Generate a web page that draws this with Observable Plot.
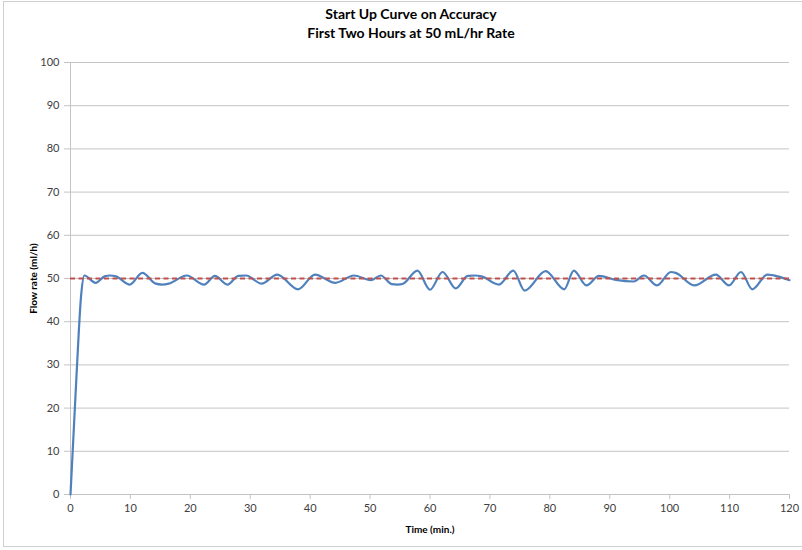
<!DOCTYPE html>
<html>
<head>
<meta charset="utf-8">
<script src="https://cdn.jsdelivr.net/npm/d3@7"></script>
<script src="https://cdn.jsdelivr.net/npm/@observablehq/plot@0.6"></script>
<style>
  html, body { margin: 0; padding: 0; background: #fff; }
  #wrap { position: relative; width: 802px; height: 550px; overflow: hidden; }
  #border { position: absolute; left: 3px; top: 1px; width: 800px; height: 546px; border: 1px solid #d0d0d0; box-sizing: border-box; pointer-events: none; }
</style>
</head>
<body>
<div id="wrap"><div id="border"></div></div>
<script>
// Data
const titleLines = ["Start Up Curve on Accuracy", "First Two Hours at 50 mL/hr Rate"];
const xLabel = "Time (min.)";
const yLabel = "Flow rate (ml/h)";
const xTicks = [0, 10, 20, 30, 40, 50, 60, 70, 80, 90, 100, 110, 120];
const yTicks = [0, 10, 20, 30, 40, 50, 60, 70, 80, 90, 100];
const targetRate = 50;

const minutes = [0, 1, 1.8, 2.3, 4.2, 5.7, 6.6, 7.6, 9.9, 12.0, 14.2, 15.3, 16.4, 19.4, 22.3, 24.1, 26.2, 28.0, 29.3, 31.9, 34.5, 38.0, 40.8, 44.2, 47.3, 50.1, 51.8, 53.6, 54.6, 55.5, 57.9, 60.0, 62.1, 64.3, 66.3, 67.5, 68.6, 71.5, 73.9, 75.8, 79.3, 82.4, 84.0, 86.1, 88.2, 91.0, 94.0, 95.7, 97.9, 100.2, 101.0, 104.1, 107.7, 109.9, 111.9, 113.8, 116.3, 118.0, 120];
const flowRate = [0, 27.5, 46.5, 50.7, 49.0, 50.5, 50.7, 50.5, 48.6, 51.3, 48.8, 48.6, 48.8, 50.7, 48.6, 50.6, 48.6, 50.6, 50.7, 48.8, 50.9, 47.5, 50.9, 49.0, 50.7, 49.6, 50.7, 48.7, 48.6, 48.8, 51.8, 47.4, 51.5, 47.7, 50.6, 50.7, 50.5, 48.6, 51.8, 47.2, 51.7, 47.5, 51.8, 48.4, 50.6, 49.7, 49.3, 50.7, 48.4, 51.5, 51.3, 48.4, 50.9, 48.4, 51.5, 47.5, 50.9, 50.5, 49.6];

const series = minutes.map((t, i) => ({t, v: flowRate[i]}));

const gridColor = "#c4c4c4";
const textColor = "#404040";

const chart = Plot.plot({
  width: 802,
  height: 550,
  marginLeft: 70,
  marginRight: 13,
  marginTop: 62,
  marginBottom: 56,
  style: {fontFamily: "Lato, 'Open Sans', sans-serif", fontSize: "11px", color: textColor, background: "transparent"},
  x: {domain: [0, 120]},
  y: {domain: [0, 100]},
  marks: [
    Plot.gridY(yTicks, {stroke: gridColor, strokeOpacity: 1, strokeWidth: 1}),
    Plot.ruleX([0], {stroke: gridColor, strokeWidth: 1}),
    Plot.ruleY([0], {stroke: gridColor, strokeWidth: 1}),
    Plot.axisY({ticks: yTicks, tickSize: 6, tickPadding: 5, stroke: gridColor, strokeOpacity: 1, label: null, fill: textColor}),
    Plot.axisX({ticks: xTicks, tickSize: 5, tickPadding: 5, stroke: gridColor, strokeOpacity: 1, label: null, fill: textColor}),
    Plot.line(series, {x: "t", y: "v", curve: "monotone-x", stroke: "#4f81bd", strokeWidth: 2.2}),
    Plot.ruleY([targetRate], {x1: 0, x2: 120, stroke: "#c0504d", strokeWidth: 2, strokeDasharray: "5,3.5"}),
    Plot.text([titleLines[0]], {frameAnchor: "top", lineAnchor: "middle", dx: -19, dy: -48, fontSize: 14, fontWeight: "bold", fill: "#000"}),
    Plot.text([titleLines[1]], {frameAnchor: "top", lineAnchor: "middle", dx: -19, dy: -29, fontSize: 14, fontWeight: "bold", fill: "#000"}),
    Plot.text([xLabel], {frameAnchor: "bottom", lineAnchor: "middle", dy: 35, fontSize: 10, fontWeight: "bold", fill: "#000"}),
    Plot.text([yLabel], {frameAnchor: "left", textAnchor: "middle", lineAnchor: "middle", dx: -37, rotate: -90, fontSize: 10, fontWeight: "bold", fill: "#000"})
  ]
});

document.getElementById("wrap").appendChild(chart);
</script>
</body>
</html>
